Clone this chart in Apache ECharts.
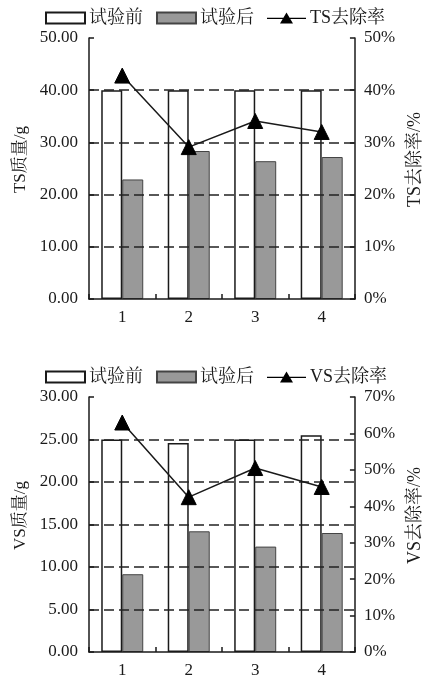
<!DOCTYPE html>
<html>
<head>
<meta charset="utf-8">
<script src="https://cdn.jsdelivr.net/npm/echarts@6/dist/echarts.min.js"></script>
<style>
  html, body { margin: 0; padding: 0; background: #fff; }
  #chart { width: 432px; height: 679px; }
</style>
</head>
<body>
<div id="chart"></div>
<script>
// Test groups
var categories = ['1', '2', '3', '4'];

// TS mass (g) before / after, and removal rate (%)
var tsBefore = [40.0, 40.0, 40.0, 40.0];
var tsAfter = [22.9, 28.35, 26.4, 27.2];
var tsRate = [42.8, 29.1, 34.1, 32.0];

// VS mass (g) before / after, and removal rate (%)
var vsBefore = [25.0, 24.6, 25.0, 25.5];
var vsAfter = [9.15, 14.2, 12.4, 14.0];
var vsRate = [63.0, 42.5, 50.5, 45.3];

var FONT = "'Liberation Serif', 'Times New Roman', 'Noto Serif CJK SC', 'Noto Sans CJK SC', serif";
var INK = '#1a1a1a';

// legend glyph for the rate series: a short line with a filled triangle on it
var LINE_TRIANGLE = 'path://M0,5.2 L39,5.2 L39,6.6 L0,6.6 Z M19.5,0 L26,11 L13,11 Z';

function massAxis(gridIndex, max, interval, name) {
  return {
    type: 'value', gridIndex: gridIndex, min: 0, max: max, interval: interval,
    position: 'left', z: 5,
    name: name, nameLocation: 'middle', nameGap: 60, nameRotate: 90,
    nameTextStyle: { fontFamily: FONT, fontSize: 17, color: INK, padding: [0, 0, 0, 18] },
    axisLine: { show: true, lineStyle: { color: INK, width: 1.5 } },
    axisTick: { show: true, inside: true, length: 5, lineStyle: { color: INK, width: 1.5 } },
    axisLabel: { fontFamily: FONT, fontSize: 17, color: INK, margin: 11,
      formatter: function (v) { return v.toFixed(2); } },
    splitLine: { show: true, showMinLine: false, showMaxLine: false,
      lineStyle: { color: '#222', width: 1.6, type: [10, 5] } }
  };
}

function rateAxis(gridIndex, max, name) {
  return {
    type: 'value', gridIndex: gridIndex, min: 0, max: max, interval: 10,
    position: 'right', z: 5,
    name: name, nameLocation: 'middle', nameGap: 50, nameRotate: 90,
    nameTextStyle: { fontFamily: FONT, fontSize: 18, color: INK, padding: [0, 0, 0, 18] },
    axisLine: { show: true, lineStyle: { color: INK, width: 1.5 } },
    axisTick: { show: true, inside: true, length: 5, lineStyle: { color: INK, width: 1.5 } },
    axisLabel: { fontFamily: FONT, fontSize: 17, color: INK, margin: 9, formatter: '{value}%' },
    splitLine: { show: false }
  };
}

function catAxis(gridIndex) {
  return {
    type: 'category', gridIndex: gridIndex, data: categories, z: 5,
    axisLine: { show: true, lineStyle: { color: INK, width: 1.5 } },
    axisTick: { show: true, inside: true, length: 5, lineStyle: { color: INK, width: 1.5 } },
    axisLabel: { fontFamily: FONT, fontSize: 17, color: INK, margin: 10 },
    splitLine: { show: false }
  };
}

var whiteBar = { color: '#ffffff', borderColor: INK, borderWidth: 1.5 };
var grayBar = { color: '#999999', borderColor: '#444', borderWidth: 1 };

function barSeries(name, data, xi, yi, style) {
  return {
    name: name, type: 'bar', xAxisIndex: xi, yAxisIndex: yi, data: data,
    barWidth: 21, barGap: '0%', itemStyle: style, z: 2
  };
}

function rateSeries(name, data, xi, yi) {
  return {
    name: name, type: 'line', xAxisIndex: xi, yAxisIndex: yi, data: data,
    symbol: 'triangle', symbolSize: 15, z: 10,
    lineStyle: { color: INK, width: 1.5 },
    itemStyle: { color: '#000', borderColor: '#000' }
  };
}

function legend(top, rateName) {
  return {
    top: top, left: 40, itemWidth: 39, itemHeight: 11, itemGap: 13,
    textStyle: { fontFamily: FONT, fontSize: 18, color: INK, padding: [0, 0, 0, -1] },
    data: [
      { name: '试验前', icon: 'rect' },
      { name: '试验后', icon: 'rect' },
      { name: rateName, icon: LINE_TRIANGLE }
    ]
  };
}

var chart = echarts.init(document.getElementById('chart'), null, { renderer: 'canvas' });
chart.setOption({
  animation: false,
  backgroundColor: '#fff',
  legend: [legend(4, 'TS去除率'), legend(363, 'VS去除率')],
  grid: [
    { left: 89, right: 71, top: 38, height: 261 },
    { left: 89, right: 71, top: 397, height: 261 }
  ],
  xAxis: [catAxis(0), catAxis(1)],
  yAxis: [
    massAxis(0, 50, 10, 'TS质量/g'),
    rateAxis(0, 50, 'TS去除率/%'),
    massAxis(1, 30, 5, 'VS质量/g'),
    rateAxis(1, 70, 'VS去除率/%')
  ],
  series: [
    barSeries('试验前', tsBefore, 0, 0, whiteBar),
    barSeries('试验后', tsAfter, 0, 0, grayBar),
    rateSeries('TS去除率', tsRate, 0, 1),
    barSeries('试验前', vsBefore, 1, 2, whiteBar),
    barSeries('试验后', vsAfter, 1, 2, grayBar),
    rateSeries('VS去除率', vsRate, 1, 3)
  ]
});
</script>
</body>
</html>
